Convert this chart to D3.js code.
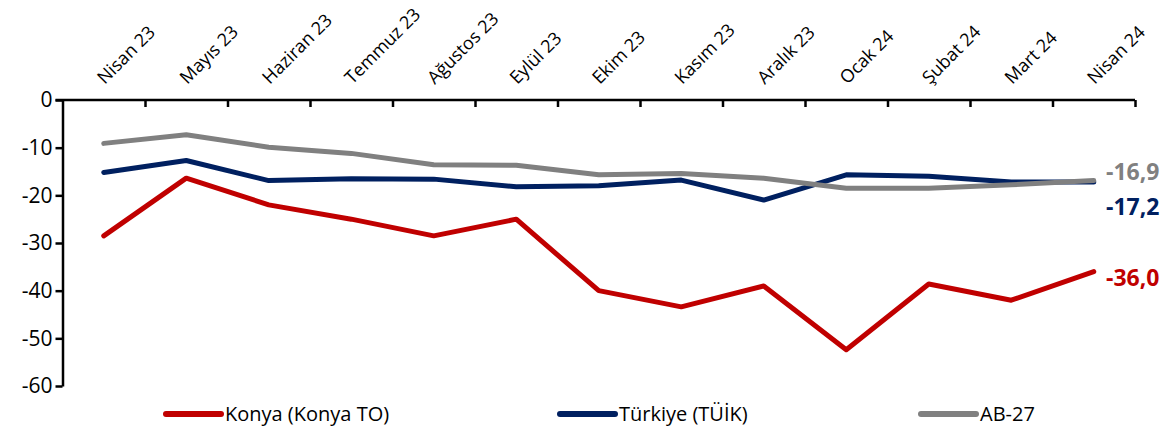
<!DOCTYPE html>
<html>
<head>
<meta charset="utf-8">
<script src="https://cdn.jsdelivr.net/npm/d3@7"></script>
<style>
  body { margin: 0; background: #fff; }
  svg { font-family: "Open Sans", sans-serif; }
</style>
</head>
<body>
<svg width="1170" height="435"></svg>
<script>
const months = ['Nisan 23','Mayıs 23','Haziran 23','Temmuz 23','Ağustos 23','Eylül 23','Ekim 23',
  'Kasım 23','Aralık 23','Ocak 24','Şubat 24','Mart 24','Nisan 24'];
const konya = [-28.5,-16.4,-22.0,-25.0,-28.5,-25.0,-40.0,-43.4,-39.0,-52.4,-38.6,-42.0,-36.0];
const turkiye = [-15.2,-12.7,-16.9,-16.5,-16.6,-18.2,-18.0,-16.8,-21.0,-15.7,-16.0,-17.2,-17.2];
const ab27 = [-9.1,-7.3,-9.9,-11.2,-13.6,-13.7,-15.7,-15.4,-16.4,-18.5,-18.5,-17.8,-16.9];
const yTicks = [0,-10,-20,-30,-40,-50,-60];

const series = [
  {name: 'Konya (Konya TO)', values: konya, color: '#C00000', endLabel: '-36,0', lx: 166, ly: 286},
  {name: 'Türkiye (TÜİK)', values: turkiye, color: '#002060', endLabel: '-17,2', lx: 560, ly: 215},
  {name: 'AB-27', values: ab27, color: '#808080', endLabel: '-16,9', lx: 921, ly: 180}
];

const svg = d3.select('svg');
const mLeft = 62.5, mRight = 1135, mTop = 100, mBottom = 386;

const x = d3.scaleBand().domain(months).range([mLeft, mRight]);
const xb = d3.scaleLinear().domain([0, months.length]).range([mLeft, mRight]);
const y = d3.scaleLinear().domain([-60, 0]).range([mBottom, mTop]);

// y axis
const yAxis = svg.append('g')
  .attr('transform', `translate(${mLeft},0)`)
  .call(d3.axisLeft(y).tickValues(yTicks).tickSize(7).tickSizeOuter(0));
yAxis.select('.domain').attr('stroke', '#000').attr('stroke-width', 2.5);
yAxis.selectAll('.tick line').attr('stroke', '#000').attr('stroke-width', 2.5);
yAxis.selectAll('.tick text')
  .attr('x', -10)
  .attr('font-size', 21)
  .attr('font-family', '"Open Sans", sans-serif')
  .attr('fill', '#000')
  .text(d => d === 0 ? '0' : '-' + Math.abs(d));

// x axis at 0, ticks on band boundaries
const xAxis = svg.append('g')
  .attr('transform', `translate(0,${y(0)})`)
  .call(d3.axisBottom(xb).ticks(months.length).tickSize(7).tickSizeOuter(0).tickFormat(''));
xAxis.select('.domain').attr('stroke', '#000').attr('stroke-width', 2.5)
  .attr('d', `M${mLeft - 7},0H${mRight}`);
xAxis.selectAll('.tick line').attr('stroke', '#000').attr('stroke-width', 2.5);
xAxis.selectAll('.tick').filter(d => d === 0).remove();

// rotated month labels
svg.append('g')
  .selectAll('text')
  .data(months)
  .enter()
  .append('text')
  .attr('transform', d => `translate(${x(d) + x.bandwidth() / 2 + 1},${mTop - 15}) rotate(-45)`)
  .attr('font-size', 18)
  .attr('fill', '#000')
  .text(d => d);

// lines
const line = d3.line()
  .x((d, i) => x(months[i]) + x.bandwidth() / 2)
  .y(d => y(d));

svg.append('g')
  .selectAll('path')
  .data(series)
  .enter()
  .append('path')
  .attr('d', d => line(d.values))
  .attr('fill', 'none')
  .attr('stroke', d => d.color)
  .attr('stroke-width', 5)
  .attr('stroke-linecap', 'round')
  .attr('stroke-linejoin', 'round');

// end labels
svg.append('g')
  .selectAll('text')
  .data(series)
  .enter()
  .append('text')
  .attr('x', 1106)
  .attr('y', d => d.ly)
  .attr('font-size', 23)
  .attr('font-weight', 'bold')
  .attr('fill', d => d.color)
  .text(d => d.endLabel);

// legend
const leg = svg.append('g')
  .selectAll('g')
  .data(series)
  .enter()
  .append('g')
  .attr('transform', d => `translate(${d.lx},414)`);
leg.append('line')
  .attr('x1', 0).attr('x2', 55)
  .attr('stroke', d => d.color)
  .attr('stroke-width', 6)
  .attr('stroke-linecap', 'round');
leg.append('text')
  .attr('x', 59)
  .attr('dy', '0.35em')
  .attr('font-size', 20)
  .attr('fill', '#000')
  .text(d => d.name);
</script>
</body>
</html>
